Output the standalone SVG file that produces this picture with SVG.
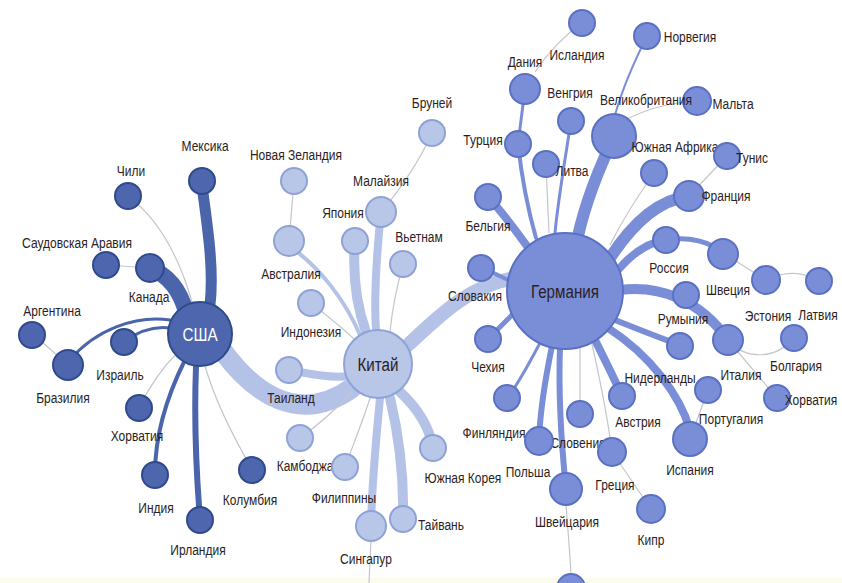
<svg xmlns="http://www.w3.org/2000/svg" width="842" height="583" viewBox="0 0 842 583">
<style>
text{font-family:"Liberation Sans",Arimo,sans-serif;font-size:15px;fill:#2b1d22;text-anchor:middle;transform-box:fill-box;transform-origin:center;transform:scaleX(0.8)}
.u{fill:#4d66ad;stroke:#2f4a8c;stroke-width:2}
.c{fill:#b8c6e8;stroke:#8ea2d6;stroke-width:2}
.g{fill:#7a8ed8;stroke:#5a70c2;stroke-width:2}
.eu{fill:none;stroke:#4b65ab;stroke-linecap:round}
.ec{fill:none;stroke:#b3c2e6;stroke-linecap:round}
.eg{fill:none;stroke:#7a8ed8;stroke-linecap:round}
.et{fill:none;stroke:#c4c6cc;stroke-width:1.2}
.big{font-size:19px}
</style>
<rect x="0" y="0" width="842" height="583" fill="#ffffff"/>
<rect x="0" y="578" width="842" height="5" fill="#fbfcea"/>
<g id="connectors">
<!-- USA -->
<path class="ec" stroke-width="20" d="M222,350 C255,395 300,425 352,388"/>
<path class="eu" stroke-width="11" d="M202,186 C208,230 214,270 210,305"/>
<path class="eu" stroke-width="16" d="M150,268 C168,275 180,290 186,312"/>
<path class="et" d="M106,265 L150,268"/>
<path class="et" d="M128,196 C160,220 180,260 192,302"/>
<path class="eu" stroke-width="3" d="M70,360 C95,330 135,315 170,320"/>
<path class="eu" stroke-width="3" d="M124,342 C140,330 155,326 170,328"/>
<path class="et" d="M32,333 L68,365"/>
<path class="et" d="M139,408 C150,385 165,365 178,352"/>
<path class="eu" stroke-width="4" d="M185,360 C165,400 155,440 155,474"/>
<path class="eu" stroke-width="6" d="M196,366 C194,420 196,470 200,519"/>
<path class="et" d="M205,366 C215,400 235,440 252,469"/>
<!-- China -->
<path class="ec" stroke-width="14" d="M408,345 C440,315 470,285 515,278"/>
<path class="ec" stroke-width="8" d="M300,372 C320,376 335,378 348,376"/>
<path class="et" stroke="#c7d1ea" d="M300,438 C325,420 340,405 352,392"/>
<path class="et" stroke="#c7d1ea" d="M345,467 C355,440 365,415 370,398"/>
<path class="et" stroke="#c7d1ea" d="M311,303 C330,318 345,330 355,340"/>
<path class="ec" stroke-width="4" d="M292,248 C320,268 345,300 360,335"/>
<path class="et" stroke="#c7d1ea" d="M294,181 L289,241"/>
<path class="ec" stroke-width="10" d="M355,240 C352,280 358,310 366,332"/>
<path class="ec" stroke-width="8" d="M381,212 C376,260 374,300 376,331"/>
<path class="et" stroke="#c7d1ea" d="M381,212 C400,190 420,160 432,133"/>
<path class="et" stroke="#c7d1ea" d="M403,264 C396,290 392,310 390,332"/>
<path class="ec" stroke-width="10" d="M398,390 C420,410 430,430 433,448"/>
<path class="ec" stroke-width="10" d="M390,398 C400,440 404,480 403,519"/>
<path class="ec" stroke-width="8" d="M380,398 C376,440 372,480 371,526"/>
<path class="et" stroke="#c7d1ea" d="M371,540 L369,583"/>
<!-- Germany -->
<path class="eg" stroke-width="8" d="M488,197 C505,215 515,230 527,246"/>
<path class="eg" stroke-width="4" d="M518,144 C522,180 528,210 536,238"/>
<path class="eg" stroke-width="3" d="M525,89 L518,144"/>
<path class="et" d="M535,72 C550,50 565,35 582,23"/>
<path class="et" d="M546,164 C547,190 548,210 549,233"/>
<path class="eg" stroke-width="3" d="M571,121 C565,160 558,200 555,233"/>
<path class="eg" stroke-width="12" d="M615,135 C598,170 585,205 578,236"/>
<path class="eg" stroke-width="2" d="M647,36 C635,60 622,90 615,115"/>
<path class="et" d="M625,120 C645,110 665,103 697,101"/>
<path class="et" d="M654,173 C635,200 620,225 610,245"/>
<path class="eg" stroke-width="12" d="M610,258 C635,220 660,200 689,196"/>
<path class="et" d="M689,196 L727,156"/>
<path class="eg" stroke-width="8" d="M618,270 C635,250 650,242 666,240"/>
<path class="eg" stroke-width="5" d="M666,240 C690,236 710,242 723,253"/>
<path class="et" d="M723,253 L766,280"/>
<path class="et" d="M766,280 C785,270 805,272 819,281"/>
<path class="eg" stroke-width="10" d="M620,290 C660,285 700,300 728,340"/>
<path class="et" d="M728,340 C745,360 775,360 794,338"/>
<path class="et" d="M738,352 L777,398"/>
<path class="eg" stroke-width="6" d="M615,320 C640,330 660,338 680,345"/>
<path class="eg" stroke-width="8" d="M608,328 C650,355 680,395 690,430"/>
<path class="et" d="M708,390 L690,439"/>
<path class="eg" stroke-width="8" d="M595,340 C605,360 615,380 622,396"/>
<path class="et" d="M580,348 L580,414"/>
<path class="et" d="M592,344 C600,380 608,420 612,452"/>
<path class="et" d="M612,452 L651,509"/>
<path class="eg" stroke-width="6" d="M552,346 C545,380 540,410 539,441"/>
<path class="eg" stroke-width="6" d="M560,348 C558,400 562,450 566,489"/>
<path class="eg" stroke-width="3" d="M540,343 C528,365 518,385 507,398"/>
<path class="eg" stroke-width="5" d="M488,339 C497,330 505,322 512,315"/>
<path class="eg" stroke-width="4" d="M481,268 C492,272 500,276 508,280"/>
<path class="et" d="M566,505 C568,530 570,555 571,575"/>
</g>
<!-- USA cluster -->
<g id="usa"><circle class="u" cx="200" cy="334" r="32"/><text x="200" y="341" class="big" style="fill:#ffffff">США</text></g>
<g id="mexico"><circle class="u" cx="202" cy="181" r="13"/><text x="205" y="151">Мексика</text></g>
<g id="chile"><circle class="u" cx="128" cy="196" r="13"/><text x="131" y="176">Чили</text></g>
<g id="saudi"><circle class="u" cx="106" cy="265" r="13"/><text x="77" y="248">Саудовская Аравия</text></g>
<g id="canada"><circle class="u" cx="150" cy="268" r="14"/><text x="149" y="302">Канада</text></g>
<g id="argentina"><circle class="u" cx="32" cy="335" r="13"/><text x="52" y="316">Аргентина</text></g>
<g id="brazil"><circle class="u" cx="68" cy="365" r="15"/><text x="63" y="403">Бразилия</text></g>
<g id="israel"><circle class="u" cx="124" cy="342" r="13"/><text x="120" y="380">Израиль</text></g>
<g id="croatia-us"><circle class="u" cx="139" cy="408" r="13"/><text x="137" y="441">Хорватия</text></g>
<g id="india"><circle class="u" cx="155" cy="475" r="13"/><text x="156" y="513">Индия</text></g>
<g id="ireland"><circle class="u" cx="200" cy="520" r="13"/><text x="198" y="555">Ирландия</text></g>
<g id="colombia"><circle class="u" cx="252" cy="470" r="13"/><text x="250" y="505">Колумбия</text></g>
<!-- China cluster -->
<g id="china"><circle class="c" cx="378" cy="364" r="34"/><text x="378" y="371" class="big">Китай</text></g>
<g id="brunei"><circle class="c" cx="432" cy="133" r="13"/><text x="432" y="108">Бруней</text></g>
<g id="newzealand"><circle class="c" cx="294" cy="181" r="13"/><text x="296" y="160">Новая Зеландия</text></g>
<g id="malaysia"><circle class="c" cx="381" cy="212" r="15"/><text x="381" y="186">Малайзия</text></g>
<g id="japan"><circle class="c" cx="355" cy="241" r="13"/><text x="343" y="218">Япония</text></g>
<g id="vietnam"><circle class="c" cx="403" cy="264" r="13"/><text x="419" y="242">Вьетнам</text></g>
<g id="australia"><circle class="c" cx="289" cy="241" r="15"/><text x="291" y="279">Австралия</text></g>
<g id="indonesia"><circle class="c" cx="311" cy="303" r="13"/><text x="311" y="337">Индонезия</text></g>
<g id="thailand"><circle class="c" cx="289" cy="370" r="13"/><text x="291" y="403">Таиланд</text></g>
<g id="cambodia"><circle class="c" cx="300" cy="438" r="13"/><text x="305" y="471">Камбоджа</text></g>
<g id="philippines"><circle class="c" cx="345" cy="467" r="13"/><text x="344" y="503">Филиппины</text></g>
<g id="southkorea"><circle class="c" cx="433" cy="448" r="13"/><text x="463" y="483">Южная Корея</text></g>
<g id="taiwan"><circle class="c" cx="403" cy="519" r="13"/><text x="441" y="530">Тайвань</text></g>
<g id="singapore"><circle class="c" cx="371" cy="526" r="15"/><text x="366" y="564">Сингапур</text></g>
<!-- Germany cluster -->
<g id="germany"><circle class="g" cx="565" cy="291" r="58"/><text x="565" y="298" class="big">Германия</text></g>
<g id="iceland"><circle class="g" cx="582" cy="23" r="13"/><text x="577" y="60">Исландия</text></g>
<g id="norway"><circle class="g" cx="647" cy="36" r="13"/><text x="690" y="42">Норвегия</text></g>
<g id="denmark"><circle class="g" cx="525" cy="89" r="15"/><text x="525" y="67">Дания</text></g>
<g id="hungary"><circle class="g" cx="571" cy="121" r="13"/><text x="570" y="98">Венгрия</text></g>
<g id="malta"><circle class="g" cx="697" cy="101" r="14"/><text x="733" y="109">Мальта</text></g>
<g id="uk"><circle class="g" cx="614" cy="136" r="22"/><text x="646" y="105">Великобритания</text></g>
<g id="turkey"><circle class="g" cx="518" cy="144" r="13"/><text x="483" y="145">Турция</text></g>
<g id="lithuania"><circle class="g" cx="546" cy="164" r="13"/><text x="572" y="176">Литва</text></g>
<g id="southafrica"><circle class="g" cx="654" cy="173" r="13"/><text x="675" y="152">Южная Африка</text></g>
<g id="tunisia"><circle class="g" cx="727" cy="156" r="13"/><text x="752" y="163">Тунис</text></g>
<g id="france"><circle class="g" cx="689" cy="196" r="15"/><text x="726" y="201">Франция</text></g>
<g id="belgium"><circle class="g" cx="488" cy="197" r="13"/><text x="488" y="231">Бельгия</text></g>
<g id="russia"><circle class="g" cx="666" cy="240" r="13"/><text x="669" y="273">Россия</text></g>
<g id="sweden"><circle class="g" cx="723" cy="254" r="15"/><text x="728" y="295">Швеция</text></g>
<g id="estonia"><circle class="g" cx="766" cy="280" r="14"/><text x="768" y="321">Эстония</text></g>
<g id="latvia"><circle class="g" cx="819" cy="281" r="13"/><text x="818" y="320">Латвия</text></g>
<g id="slovakia"><circle class="g" cx="481" cy="268" r="13"/><text x="475" y="301">Словакия</text></g>
<g id="romania"><circle class="g" cx="686" cy="295" r="13"/><text x="683" y="324">Румыния</text></g>
<g id="italy"><circle class="g" cx="728" cy="340" r="15"/><text x="741" y="380">Италия</text></g>
<g id="bulgaria"><circle class="g" cx="794" cy="338" r="13"/><text x="796" y="371">Болгария</text></g>
<g id="czechia"><circle class="g" cx="488" cy="339" r="13"/><text x="488" y="372">Чехия</text></g>
<g id="netherlands"><circle class="g" cx="680" cy="346" r="13"/><text x="660" y="383">Нидерланды</text></g>
<g id="croatia-de"><circle class="g" cx="777" cy="398" r="13"/><text x="811" y="405">Хорватия</text></g>
<g id="portugal"><circle class="g" cx="708" cy="390" r="13"/><text x="731" y="424">Португалия</text></g>
<g id="finland"><circle class="g" cx="507" cy="398" r="13"/><text x="494" y="438">Финляндия</text></g>
<g id="austria"><circle class="g" cx="622" cy="396" r="13"/><text x="638" y="427">Австрия</text></g>
<g id="slovenia"><circle class="g" cx="580" cy="414" r="13"/><text x="578" y="448">Словения</text></g>
<g id="spain"><circle class="g" cx="690" cy="439" r="17"/><text x="690" y="475">Испания</text></g>
<g id="poland"><circle class="g" cx="539" cy="441" r="14"/><text x="528" y="477">Польша</text></g>
<g id="greece"><circle class="g" cx="612" cy="452" r="14"/><text x="615" y="490">Греция</text></g>
<g id="switzerland"><circle class="g" cx="566" cy="489" r="16"/><text x="567" y="527">Швейцария</text></g>
<g id="cyprus"><circle class="g" cx="651" cy="509" r="14"/><text x="651" y="545">Кипр</text></g>
<g id="bottom-node"><circle class="g" cx="571" cy="588" r="14"/></g>
</svg>
